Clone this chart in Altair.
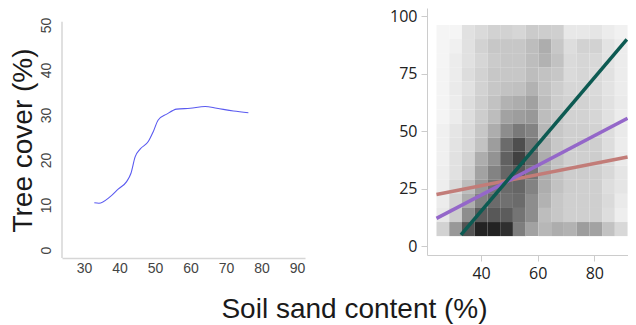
import altair as alt
import pandas as pd

# ---------------- Left panel: smoothed tree cover vs soil sand ----------------
sand_curve = [32.9, 34.2, 37.3, 39.7, 42.0, 43.2, 44.4, 45.8, 48.1, 49.5,
              50.9, 53.3, 56.1, 59.9, 64.1, 67.4, 72.1, 76.3]
cover_curve = [10.5, 10.4, 11.8, 13.6, 15.2, 17.0, 20.7, 22.4, 24.1, 26.3,
               28.9, 30.2, 31.3, 31.5, 31.9, 31.5, 30.9, 30.5]
left_x_ticks = [30, 40, 50, 60, 70, 80, 90]
left_y_ticks = [0, 10, 20, 30, 40, 50]

# ---------------- Right panel: 2-D histogram (grey level per cell) ----------------
sand_bin_start = [24.25, 28.75, 33.25, 37.75, 42.25, 46.75, 51.25, 55.75,
                  60.25, 64.75, 69.25, 73.75, 78.25, 82.75, 87.25]
sand_bin_width = 4.5
cover_bin_start = [89.98, 83.86, 77.74, 71.62, 65.5, 59.38, 53.26, 47.14,
                   41.02, 34.9, 28.78, 22.66, 16.54, 10.42, 4.3]   # top row first
cover_bin_width = 6.12
grey_rows = [
    [246, 246, 228, 222, 215, 215, 218, 208, 210, 212, 235, 235, 232, 238, 243],
    [246, 242, 228, 215, 205, 205, 205, 195, 180, 205, 225, 215, 215, 230, 238],
    [246, 238, 228, 218, 208, 205, 205, 195, 185, 200, 222, 218, 220, 230, 238],
    [245, 238, 225, 215, 205, 205, 205, 195, 200, 205, 222, 218, 222, 228, 238],
    [245, 236, 228, 215, 205, 200, 198, 185, 200, 210, 218, 218, 222, 230, 238],
    [245, 238, 225, 212, 200, 185, 180, 170, 195, 210, 215, 215, 220, 228, 236],
    [245, 238, 225, 210, 195, 170, 165, 160, 195, 205, 215, 215, 218, 228, 238],
    [242, 232, 222, 205, 180, 150, 130, 140, 190, 205, 212, 212, 215, 225, 236],
    [242, 230, 220, 200, 165, 115, 85, 130, 185, 205, 212, 210, 212, 225, 238],
    [242, 228, 215, 180, 155, 105, 70, 115, 180, 200, 212, 212, 210, 222, 236],
    [240, 228, 210, 170, 140, 110, 95, 125, 180, 200, 210, 210, 212, 220, 232],
    [240, 222, 195, 160, 125, 115, 110, 140, 180, 200, 210, 212, 212, 225, 232],
    [238, 215, 180, 140, 115, 120, 115, 150, 185, 205, 212, 212, 212, 222, 236],
    [235, 210, 150, 100, 95, 100, 125, 150, 195, 205, 212, 212, 212, 225, 240],
    [215, 160, 90, 35, 35, 50, 135, 170, 190, 180, 185, 165, 170, 200, 220],
]

# regression lines (end points)
line_names = ["pink", "purple", "green"]
line_x = [[24.25, 91.75], [24.25, 91.75], [32.9, 91.5]]
line_y = [[22.4, 38.7], [12.0, 55.5], [4.8, 89.8]]
line_colors = ["#c27c78", "#9467c9", "#0d5a52"]
line_widths = [3.5, 3.5, 4.5]

right_x_ticks = [40, 60, 80]
right_y_ticks = [0, 25, 50, 75, 100]

# ---------------- build tables ----------------
curve_df = pd.DataFrame({"sand": sand_curve, "cover": cover_curve})

cells = []
for r, yb in enumerate(cover_bin_start):
    for c, xb in enumerate(sand_bin_start):
        cells.append({"x": xb, "x2": xb + sand_bin_width,
                      "y": yb, "y2": yb + cover_bin_width,
                      "grey": grey_rows[r][c]})
cells_df = pd.DataFrame(cells)

lines = []
for i, name in enumerate(line_names):
    for xv, yv in zip(line_x[i], line_y[i]):
        lines.append({"line": name, "order": i, "sand": xv, "cover": yv})
lines_df = pd.DataFrame(lines)

axis_df = pd.DataFrame({"y0": [-1.78], "y1": [50.7]})

FONT = "Liberation Sans"

# ---------------- left chart ----------------
lx = alt.Scale(domain=[23.8, 92.25], nice=False, zero=False)
ly = alt.Scale(domain=[-1.78, 53.78], nice=False, zero=False)

curve = alt.Chart(curve_df).mark_line(
    color="#5a5af0", strokeWidth=1.1, interpolate="monotone"
).encode(
    x=alt.X("sand:Q", scale=lx,
            axis=alt.Axis(values=left_x_ticks, title=None, grid=False, ticks=False,
                          domainColor="#d6d6d6", domainWidth=1.5,
                          labelFont=FONT, labelFontSize=14, labelColor="#444",
                          labelPadding=3)),
    y=alt.Y("cover:Q", scale=ly,
            axis=alt.Axis(values=left_y_ticks, title="Tree cover (%)", grid=False,
                          ticks=False, domain=False,
                          labelFont=FONT, labelFontSize=14, labelColor="#444",
                          labelAngle=270, labelAlign="center",
                          labelBaseline="alphabetic", labelPadding=12,
                          titleFont=FONT, titleFontSize=28, titleFontWeight="normal",
                          titleColor="#1a1a1a", titleAngle=270, titleAlign="center",
                          titleBaseline="alphabetic", titleX=-31, titleY=132)),
)

y_axis_line = alt.Chart(axis_df).mark_rule(color="#d6d6d6", strokeWidth=1.5).encode(
    x=alt.value(0),
    y=alt.Y("y0:Q", scale=ly),
    y2="y1:Q",
)

left = alt.layer(y_axis_line, curve).properties(width=243, height=250)

# ---------------- right chart ----------------
rx = alt.Scale(domain=[20.9, 91.9], nice=False, zero=False)
ry = alt.Scale(domain=[-3.91, 103.48], nice=False, zero=False)

heat = alt.Chart(cells_df).mark_rect().encode(
    x=alt.X("x:Q", scale=rx,
            axis=alt.Axis(values=right_x_ticks, grid=False,
                          title="Soil sand content (%)",
                          domainColor="#cccccc", tickColor="#cccccc", tickSize=6,
                          labelFont="Open Sans", labelFontSize=16, labelColor="#222",
                          labelPadding=4,
                          titleFont=FONT, titleFontSize=28, titleFontWeight="normal",
                          titleColor="#1a1a1a", titleAlign="center",
                          titleBaseline="alphabetic", titleX=-73, titleY=62.5)),
    x2="x2:Q",
    y=alt.Y("y:Q", scale=ry,
            axis=alt.Axis(values=right_y_ticks, grid=False, title=None,
                          domainColor="#cccccc", tickColor="#cccccc", tickSize=6,
                          labelFont="Open Sans", labelFontSize=16, labelColor="#222",
                          labelPadding=4)),
    y2="y2:Q",
    color=alt.Color("grey:Q", scale=alt.Scale(domain=[0, 255], range=["#000000", "#ffffff"]),
                    legend=None),
)

reg = alt.Chart(lines_df).mark_line(strokeCap="butt").encode(
    x=alt.X("sand:Q", scale=rx),
    y=alt.Y("cover:Q", scale=ry),
    detail="line:N",
    order="order:Q",
    color=alt.Color("line:N", scale=alt.Scale(domain=line_names, range=line_colors),
                    legend=None),
    strokeWidth=alt.StrokeWidth("line:N",
                                scale=alt.Scale(domain=line_names, range=line_widths),
                                legend=None),
)

right = alt.layer(heat, reg).resolve_scale(color="independent").properties(
    width=201, height=247)

chart = alt.hconcat(left, right, spacing=122, bounds="flush").properties(
    autosize=alt.AutoSizeParams(type="none"),
    padding={"left": 54, "top": 0, "right": 566, "bottom": 317},
).configure_view(stroke="transparent")

chart.save("out.html", embed_options={"renderer": "svg", "actions": False})
